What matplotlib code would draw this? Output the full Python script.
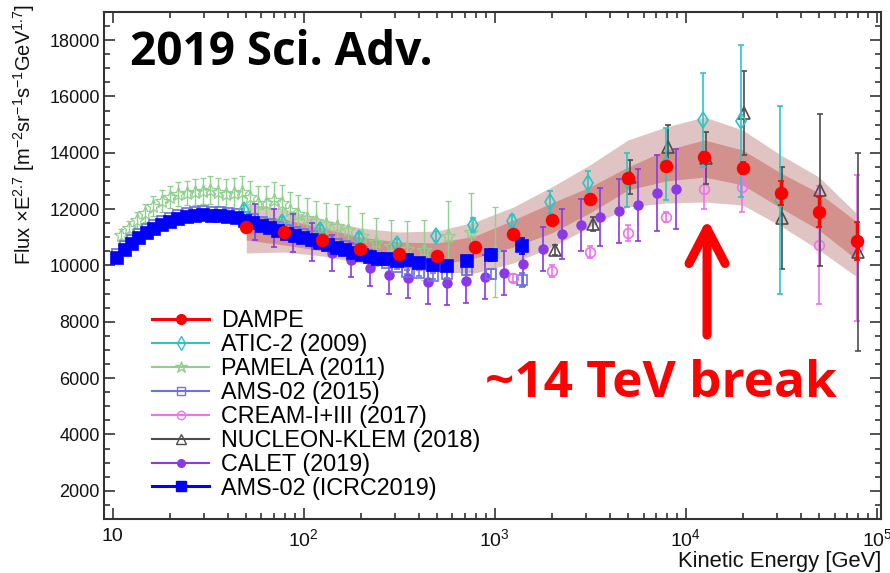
import numpy as np
import matplotlib
matplotlib.use("Agg")
import matplotlib.pyplot as plt
from matplotlib import font_manager
from matplotlib.lines import Line2D
from matplotlib.ticker import MultipleLocator, LogLocator, FuncFormatter, NullFormatter

plt.rcParams["font.family"] = ["Liberation Sans", "DejaVu Sans"]
plt.rcParams["mathtext.fontset"] = "custom"
plt.rcParams["mathtext.rm"] = "Liberation Sans"
plt.rcParams["mathtext.it"] = "Liberation Sans:italic"
plt.rcParams["mathtext.bf"] = "Liberation Sans:bold"

# ---------------- proton flux x E^2.7  [m^-2 sr^-1 s^-1 GeV^1.7] ----------------
# DAMPE (2019) with its uncertainty bands
dampe_E = [50, 79, 125, 198, 314, 497, 787, 1250, 1980, 3140, 4970, 7870,
           12500, 19800, 31400, 49700, 78700]
dampe_F = [11370, 11190, 10920, 10590, 10410, 10340, 10660, 11120, 11620, 12360,
           13120, 13530, 13850, 13460, 12570, 11900, 10870]
dampe_err = [40, 40, 40, 40, 50, 60, 70, 80, 100, 120, 140, 160, 180, 220, 420, 530, 670]
band_inner_lo = [10906, 10728, 10515, 10267, 10089, 10018, 10267, 10657, 11154, 11864,
                 12681, 13000, 13142, 12858, 12042, 11261, 10196]
band_inner_hi = [11793, 11651, 11332, 11012, 10835, 10799, 11048, 11616, 12219, 12787,
                 13497, 14101, 14456, 14101, 13284, 12574, 11545]
band_outer_lo = [10444, 10480, 10338, 10089, 9912, 9770, 9734, 10089, 10657, 11367,
                 12077, 12219, 12255, 12148, 11403, 10551, 9592]
band_outer_hi = [12219, 12006, 11651, 11332, 11190, 11225, 11545, 12077, 12787, 13568,
                 14456, 14917, 15272, 14811, 13923, 13142, 11829]

# ATIC-2 (2009)
atic_E = [48.5, 76.7, 121, 194, 307, 491, 767, 1227, 1941, 3069, 4911, 7858,
          12275, 19410, 31060]
atic_F = [11971, 11545, 11261, 10977, 10764, 11048, 11438, 11581, 12255, 12929,
          13036, 13604, 15166, 15130, 12326]
atic_err = [180, 180, 180, 180, 180, 180, 250, 210, 390, 430, 960, 1280, 1670, 2700, 3340]

# PAMELA (2011)
pamela_E = [11.0, 12.1, 13.4, 14.7, 16.2, 18.1, 19.9, 21.9, 24.4, 26.9, 29.6, 32.2,
            35.5, 39.1, 43.0, 47.4, 52.2, 57.4, 63.2, 69.7, 76.7, 84.5, 93.0, 104,
            116, 130, 149, 170, 201, 238, 286, 346, 425, 567, 749, 1000]
pamela_F = [11083, 11332, 11616, 11864, 12113, 12290, 12432, 12539, 12574, 12610,
            12646, 12681, 12610, 12539, 12574, 12610, 12432, 12219, 12219, 12326,
            12219, 11971, 11829, 11687, 11581, 11474, 11403, 11261, 11048, 10835,
            10693, 10585, 10551, 11048, 11190, 10480]
pamela_err = [213, 249, 284, 320, 355, 390, 390, 426, 426, 462, 462, 497, 497, 533,
              533, 568, 568, 604, 604, 639, 639, 639, 675, 710, 710, 746, 781, 852,
              820, 850, 920, 990, 1060, 1240, 1400, 1600]

# AMS-02 (2015)
ams15_E = [10.5, 11.6, 12.6, 13.7, 15.1, 16.4, 18.0, 19.9, 21.9, 24.4, 26.9, 29.6,
           33.0, 36.3, 40.0, 44.6, 49.1, 54.1, 60.3, 66.4, 73.1, 81.5, 89.7, 98.8,
           110, 121, 134, 149, 164, 181, 201, 222, 244, 272, 307, 346, 400, 474,
           561, 714, 953, 1385]
ams15_F = [10400, 10690, 10900, 11110, 11290, 11430, 11570, 11680, 11790, 11860,
           11900, 11930, 11900, 11900, 11860, 11820, 11720, 11650, 11540, 11470,
           11360, 11250, 11180, 11110, 11040, 10930, 10860, 10750, 10680, 10570,
           10480, 10350, 10230, 10080, 9950, 9770, 9735, 9630, 9700, 9840, 9700, 9490]
ams15_err = [30] * 30 + [40, 40, 50, 60, 70, 80, 100, 110, 130, 160, 190, 250]

# CREAM-I+III (2017)
cream_E = [1242, 1988, 3143, 4969, 7858, 12425, 19650, 49690, 78590]
cream_F = [9557, 9806, 10480, 11154, 11722, 12716, 12787, 10728, 10622]
cream_err = [140, 210, 210, 280, 180, 710, 890, 2090, 2590]

# NUCLEON-KLEM (2018)
nucleon_E = [2061, 3260, 5091, 8050, 12725, 20120, 31800, 50300, 79530]
nucleon_F = [10551, 11474, 13142, 14208, 13817, 15414, 11687, 12681, 10480]
nucleon_err = [180, 250, 600, 780, 920, 1490, 1810, 2700, 3510]

# CALET (2019)
calet_E = [55.4, 69.7, 87.6, 111, 140, 176, 222, 279, 350, 446, 561, 705, 886,
           1114, 1402, 1784, 2243, 2820, 3546, 4459, 5607, 7050, 8865]
calet_F = [11545, 11332, 11154, 10835, 10444, 10196, 9912, 9663, 9557, 9415, 9379,
           9450, 9592, 9734, 10054, 10586, 11119, 11438, 11722, 11936, 12148, 12574,
           12716]
calet_err = [640, 675, 675, 675, 640, 605, 640, 675, 710, 780, 780, 780, 780, 780,
             780, 780, 890, 925, 1030, 1135, 1280, 1350, 1420]

# AMS-02 (ICRC2019)
amsicrc_E = [10.5, 11.6, 12.6, 13.7, 15.1, 16.4, 18.0, 19.9, 21.9, 24.4, 26.9, 29.6,
             33.0, 36.3, 40.0, 44.6, 49.1, 54.1, 60.3, 66.4, 73.1, 81.5, 89.7, 98.8,
             110, 121, 134, 149, 164, 181, 201, 222, 244, 272, 307, 346, 400, 474,
             561, 714, 953, 1385]
amsicrc_F = [10267, 10551, 10764, 10977, 11154, 11296, 11438, 11545, 11651, 11722,
             11758, 11793, 11758, 11758, 11722, 11687, 11581, 11510, 11403, 11332,
             11225, 11119, 11048, 10977, 10906, 10800, 10728, 10622, 10551, 10444,
             10373, 10302, 10232, 10232, 10160, 10196, 10090, 10018, 9983, 10160,
             10373, 10693]
amsicrc_err = [30] * 30 + [35, 40, 45, 50, 60, 70, 90, 100, 110, 180, 210, 285]

labels = ["DAMPE", "ATIC-2 (2009)", "PAMELA (2011)", "AMS-02 (2015)",
          "CREAM-I+III (2017)", "NUCLEON-KLEM (2018)", "CALET (2019)",
          "AMS-02 (ICRC2019)"]

# ---------------- styles ----------------
C_DAMPE = "#ff0000"
C_ATIC = "#2ec4c4"
C_PAMELA = "#8fd08f"
C_AMS15 = "#6f6fe6"
C_CREAM = "#ee72ee"
C_NUCLEON = "#4d4d4d"
C_CALET = "#8a38e8"
C_AMSICRC = "#0000ff"
C_BAND_OUT = "#e0c4c3"
C_BAND_IN = "#d3918e"


def bold_family():
    """First installed sans family that ships a real bold face."""
    bold_names = {f.name for f in font_manager.fontManager.ttflist
                  if (f.weight if isinstance(f.weight, int) else
                      {"bold": 700, "heavy": 800, "black": 900}.get(str(f.weight), 400)) >= 700}
    for fam in ["Noto Sans", "Open Sans", "Lato", "Roboto", "DejaVu Sans", "Liberation Sans"]:
        if fam in bold_names:
            return fam
    return "DejaVu Sans"


BOLD = bold_family()

fig = plt.figure(figsize=(8.9, 5.73), dpi=100)
ax = fig.add_axes([104 / 890, 1 - 519 / 573, 777 / 890, 507 / 573])

ax.fill_between(dampe_E, band_outer_lo, band_outer_hi, color=C_BAND_OUT, lw=0, zorder=1)
ax.fill_between(dampe_E, band_inner_lo, band_inner_hi, color=C_BAND_IN, lw=0, zorder=2)


def series(E, F, err, color, marker, ms, filled, z, elw=1.2, mew=1.2):
    ax.errorbar(E, F, yerr=err, fmt=marker, color=color, ms=ms,
                mfc=color if filled else "none", mec=color, mew=mew,
                elinewidth=elw, capsize=2, capthick=elw, zorder=z)


series(pamela_E, pamela_F, pamela_err, C_PAMELA, "*", 10, False, 3, elw=1.0, mew=0.9)
series(calet_E, calet_F, calet_err, C_CALET, "o", 6.3, True, 4)
series(ams15_E, ams15_F, ams15_err, C_AMS15, "s", 6.5, False, 5)
series(cream_E, cream_F, cream_err, C_CREAM, "o", 7, False, 6)
series(nucleon_E, nucleon_F, nucleon_err, C_NUCLEON, "^", 8, False, 7)
series(atic_E, atic_F, atic_err, C_ATIC, "d", 8, False, 8)
series(amsicrc_E, amsicrc_F, amsicrc_err, C_AMSICRC, "s", 8, True, 9, elw=2.0)
series(dampe_E, dampe_F, dampe_err, C_DAMPE, "o", 8.5, True, 10, elw=2.5)

# ---------------- axes ----------------
ax.set_xscale("log")
ax.set_xlim(9, 1.05e5)
ax.set_ylim(1000, 19000)
ax.yaxis.set_major_locator(MultipleLocator(2000))
ax.yaxis.set_minor_locator(MultipleLocator(500))
ax.xaxis.set_major_locator(LogLocator(base=10, numticks=10))
ax.xaxis.set_minor_locator(LogLocator(base=10, subs=np.arange(2, 10), numticks=20))
ax.xaxis.set_minor_formatter(NullFormatter())


def xfmt(v, pos):
    n = int(round(np.log10(v)))
    return "10" if n == 1 else r"$\mathregular{10^{%d}}$" % n


ax.xaxis.set_major_formatter(FuncFormatter(xfmt))
ax.tick_params(which="both", direction="in", top=True, right=True,
               color="#333333", width=1.2)
ax.tick_params(which="major", length=8)
ax.tick_params(which="minor", length=4.5)
ax.tick_params(axis="y", labelsize=13, pad=3, labelcolor="#111111")
ax.tick_params(axis="x", labelsize=14, pad=6.5, labelcolor="#111111")
for s in ax.spines.values():
    s.set_color("#333333")
    s.set_linewidth(1.5)

fig.text(881 / 890, 1 - 561 / 573, "Kinetic Energy [GeV]", ha="right", va="center",
         fontsize=15.8, color="#111111")
fig.text(24 / 890, 1 - 4 / 573,
         r"Flux $\times$E$^{2.7}$ [m$^{-2}$sr$^{-1}$s$^{-1}$GeV$^{1.7}$]",
         rotation=90, ha="center", va="top", fontsize=14.5, color="#111111")

# ---------------- legend ----------------
handles = [
    Line2D([], [], color=C_DAMPE, lw=2.2, marker="o", ms=7, mfc=C_DAMPE, mec=C_DAMPE),
    Line2D([], [], color=C_ATIC, lw=1.5, marker="d", ms=7, mfc="none", mec=C_ATIC),
    Line2D([], [], color=C_PAMELA, lw=1.5, marker="*", ms=9, mfc="none", mec=C_PAMELA),
    Line2D([], [], color=C_AMS15, lw=1.5, marker="s", ms=6, mfc="none", mec=C_AMS15),
    Line2D([], [], color=C_CREAM, lw=1.5, marker="o", ms=6, mfc="none", mec=C_CREAM),
    Line2D([], [], color=C_NUCLEON, lw=1.5, marker="^", ms=7, mfc="none", mec=C_NUCLEON),
    Line2D([], [], color=C_CALET, lw=1.5, marker="o", ms=5.5, mfc=C_CALET, mec=C_CALET),
    Line2D([], [], color=C_AMSICRC, lw=2.2, marker="s", ms=7, mfc=C_AMSICRC, mec=C_AMSICRC),
]
ax.legend(handles, labels, loc="upper left", bbox_to_anchor=(0.062, 0.414),
          frameon=False, fontsize=16.8, handlelength=2.45, handletextpad=0.5,
          labelspacing=0.04, borderpad=0, borderaxespad=0)

# ---------------- annotations ----------------
title = fig.text(130 / 890, 1 - 65 / 573, "2019 Sci. Adv.", fontsize=32,
                 fontweight="bold", family=BOLD, color="black",
                 va="baseline", ha="left")
note = fig.text(485 / 890, 1 - 397 / 573, "~14 TeV break", fontsize=38,
                fontweight="bold", family=BOLD, color="#ff0000",
                va="baseline", ha="left")
ax.annotate("", xy=(12900, 11650), xytext=(12900, 7530),
            arrowprops=dict(arrowstyle="->,head_length=2.5,head_width=1.3",
                            color="#ff0000", lw=6.5, capstyle="round",
                            joinstyle="round", shrinkA=0, shrinkB=0),
            zorder=12)

# size the two overlay captions to their intended pixel widths
renderer = fig.canvas.get_renderer()
for txt, width_px in ((title, 303), (note, 352)):
    w = txt.get_window_extent(renderer).width
    txt.set_fontsize(txt.get_fontsize() * width_px / w)

fig.savefig("out.png", dpi=100)
